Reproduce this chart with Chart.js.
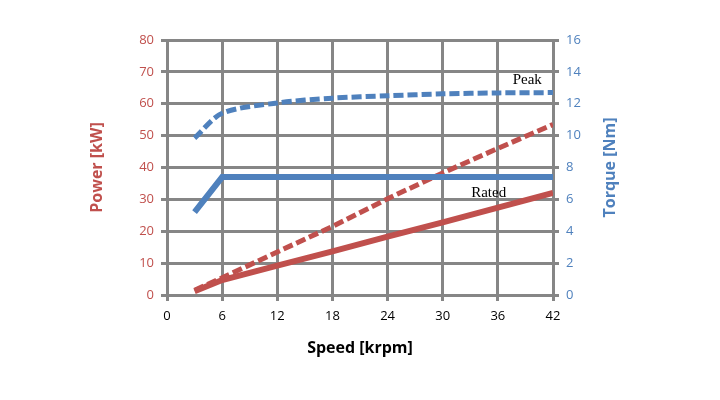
<!DOCTYPE html>
<html><head><meta charset="utf-8">
<script src="https://cdn.jsdelivr.net/npm/chart.js@4/dist/chart.umd.min.js"></script>
<style>html,body{margin:0;padding:0;background:#fff}#wrap{width:720px;height:400px}</style>
</head><body><div id="wrap"><canvas id="c" width="720" height="400"></canvas></div>
<script>
const speeds = [3, 6, 12, 18, 24, 30, 36, 42];
const torquePeak = [9.85, 11.4, 12.05, 12.35, 12.5, 12.62, 12.68, 12.7];
const torqueRated = [5.2, 7.4, 7.4, 7.4, 7.4, 7.4, 7.4, 7.4];
const powerPeak = [1.5, 5.4, 13.5, 21.5, 30.2, 38.3, 46.0, 53.5];
const powerRated = [1.2, 4.7, 9.2, 13.7, 18.3, 22.8, 27.4, 32.0];
const xTicks = [0, 6, 12, 18, 24, 30, 36, 42];
const notes = [
  {text: 'Peak', x: 39.2, y: 13.5},
  {text: 'Rated', x: 35.0, y: 6.4}
];
const titles = {x: 'Speed [krpm]', y: 'Power [kW]', y2: 'Torque [Nm]'};
const RED = '#c0504d', BLUE = '#4f81bd', GRID = '#868686';
const FONT = '"Open Sans", sans-serif';
const pts = (xs, ys) => xs.map((x, i) => ({x, y: ys[i]}));

const notePlugin = {
  id: 'notes',
  afterDatasetsDraw(chart) {
    const ctx = chart.ctx, xs = chart.scales.x, yr = chart.scales.y2, a = chart.chartArea;
    ctx.save();
    ctx.font = '15px "Liberation Serif", serif';
    ctx.fillStyle = '#000';
    ctx.textAlign = 'center';
    ctx.textBaseline = 'middle';
    notes.forEach(n => ctx.fillText(n.text, xs.getPixelForValue(n.x), yr.getPixelForValue(n.y)));
    ctx.font = 'bold 16px ' + FONT;
    ctx.fillText(titles.x, (a.left + a.right) / 2, a.bottom + 53);
    const midY = (a.top + a.bottom) / 2;
    ctx.save();
    ctx.translate(a.left - 70, midY); ctx.rotate(-Math.PI / 2);
    ctx.fillStyle = RED; ctx.fillText(titles.y, 0, 0);
    ctx.restore();
    ctx.save();
    ctx.translate(a.right + 57, midY); ctx.rotate(-Math.PI / 2);
    ctx.fillStyle = BLUE; ctx.fillText(titles.y2, 0, 0);
    ctx.restore();
    ctx.restore();
  }
};

const dashStyle = {borderWidth: 5, borderDash: [10, 4], borderCapStyle: 'butt', pointRadius: 0, fill: false};

new Chart(document.getElementById('c'), {
  type: 'line',
  data: {
    datasets: [
      Object.assign({data: pts(speeds, torquePeak), yAxisID: 'y2', borderColor: BLUE, tension: 0.3}, dashStyle),
      {data: pts(speeds, torqueRated), yAxisID: 'y2', borderColor: BLUE, borderWidth: 6, pointRadius: 0, tension: 0, fill: false},
      Object.assign({data: pts(speeds, powerPeak), yAxisID: 'y', borderColor: RED, tension: 0}, dashStyle),
      {data: pts(speeds, powerRated), yAxisID: 'y', borderColor: RED, borderWidth: 6, pointRadius: 0, tension: 0, fill: false}
    ]
  },
  options: {
    responsive: false, animation: false,
    layout: {padding: {top: 40, left: 0, right: 0, bottom: 0}},
    plugins: {legend: {display: false}, tooltip: {enabled: false}},
    scales: {
      x: {
        type: 'linear', min: 0, max: 42,
        afterBuildTicks: s => { s.ticks = xTicks.map(v => ({value: v})); },
        afterFit: s => { s.height = 105; },
        border: {display: false},
        grid: {color: GRID, lineWidth: 3, tickLength: 6},
        ticks: {color: '#000', font: {family: FONT, size: 13}, padding: 7}
      },
      y: {
        position: 'left', min: 0, max: 80,
        ticks: {stepSize: 10, color: RED, font: {family: FONT, size: 13}, padding: 7},
        afterFit: s => { s.width = 167; },
        border: {display: false},
        grid: {color: GRID, lineWidth: 3, tickLength: 6}
      },
      y2: {
        position: 'right', min: 0, max: 16,
        ticks: {stepSize: 2, color: BLUE, font: {family: FONT, size: 13}, padding: 7},
        afterFit: s => { s.width = 167; },
        border: {display: false},
        grid: {drawOnChartArea: false, color: GRID, lineWidth: 3, tickLength: 6}
      }
    }
  },
  plugins: [notePlugin]
});
</script></body></html>
